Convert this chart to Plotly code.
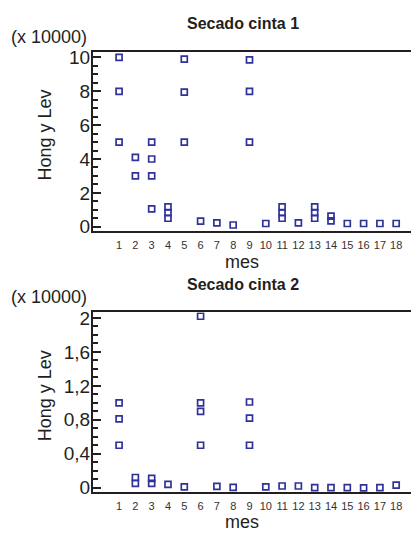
import plotly.graph_objects as go

# ---------------- data (values in units of x 10000) ----------------
meses = list(range(1, 19))

cinta1_mes = [1, 1, 1, 2, 2, 3, 3, 3, 3, 4, 4, 4, 5, 5, 5, 6, 7, 8, 9, 9, 9,
              10, 11, 11, 11, 12, 13, 13, 13, 14, 14, 15, 16, 17, 18]
cinta1_val = [10, 8, 5, 4.1, 3, 5, 4, 3, 1.05, 1.17, 0.83, 0.5, 9.9, 7.95, 5,
              0.33, 0.23, 0.1, 9.86, 8, 5, 0.19, 1.17, 0.83, 0.5, 0.23,
              1.17, 0.83, 0.5, 0.63, 0.35, 0.19, 0.19, 0.19, 0.19]

cinta2_mes = [1, 1, 1, 2, 2, 3, 3, 4, 5, 6, 6, 6, 6, 7, 8, 9, 9, 9,
              10, 11, 12, 13, 14, 15, 16, 17, 18]
cinta2_val = [1.0, 0.81, 0.5, 0.12, 0.05, 0.11, 0.05, 0.04, 0.01,
              2.02, 1.0, 0.9, 0.5, 0.015, 0.005, 1.01, 0.82, 0.5,
              0.01, 0.02, 0.02, 0.0, 0.0, 0.0, -0.003, 0.0, 0.03]

titulos = ["Secado cinta 1", "Secado cinta 2"]
y_titulo = "Hong y Lev"
x_titulo = "mes"
escala = "(x 10000)"

# ---------------- layout geometry (page pixels; page has an 8px body margin) ----------------
W, H = 419, 533
PAGE = 8
PLOT_LEFT, PLOT_RIGHT = 93, 420      # page pixels of the plot frame
L = PLOT_LEFT - PAGE
R = W - (PLOT_RIGHT - PAGE)
FONT = "Liberation Sans, Arial, sans-serif"
INK = "#231f20"
BLUE = "#2f3299"

def px_x(x):
    return (x - PLOT_LEFT) / (PLOT_RIGHT - PLOT_LEFT)

def px_y(y):
    return (H - (y - PAGE)) / H

X_RANGE = [-0.6, 19.46]

panels = [
    dict(top=47.7, bottom=230.7, rng=[-0.26, 10.33], dtick=2, minor=0.5,
         mes=cinta1_mes, val=cinta1_val, off=0),
    dict(top=313.5, bottom=497.3, rng=[-0.053, 2.068], dtick=0.4, minor=0.1,
         mes=cinta2_mes, val=cinta2_val, off=266),
]

fig = go.Figure()
layout = dict(
    width=W, height=H,
    margin=dict(l=L, r=R, t=0, b=0),
    paper_bgcolor="white", plot_bgcolor="white",
    showlegend=False, separators=",.",
    font=dict(family=FONT, color=INK),
)
annotations = []

for i, p in enumerate(panels):
    xa = "x" if i == 0 else "x2"
    ya = "y" if i == 0 else "y2"
    xkey = "xaxis" if i == 0 else "xaxis2"
    ykey = "yaxis" if i == 0 else "yaxis2"
    dom = [px_y(p["bottom"]), px_y(p["top"])]

    fig.add_trace(go.Scatter(
        x=p["mes"], y=p["val"], xaxis=xa, yaxis=ya, mode="markers",
        marker=dict(symbol="square-open", size=6, color=BLUE,
                    line=dict(width=1.7, color=BLUE)),
        hoverinfo="skip"))

    layout[xkey] = dict(
        domain=[0, 1], anchor=ya, range=X_RANGE,
        tickmode="array", tickvals=meses, ticktext=[str(m) for m in meses],
        ticks="", showgrid=False, zeroline=False,
        showline=True, mirror=True, linewidth=2, linecolor=INK,
        tickfont=dict(size=11, color="#333333"), ticklabelstandoff=3)
    layout[ykey] = dict(
        domain=dom, anchor=xa, range=p["rng"], dtick=p["dtick"], tick0=0,
        ticks="inside", ticklen=8, tickwidth=1.5, tickcolor=INK,
        minor=dict(dtick=p["minor"], tick0=0, ticks="inside", ticklen=5,
                   tickwidth=1.5, tickcolor=INK, showgrid=False),
        showgrid=False, zeroline=False, mirror="ticks",
        showline=True, linewidth=2, linecolor=INK,
        tickfont=dict(size=19, color=INK), ticklabelstandoff=-3)

    off = p["off"]
    annotations += [
        dict(text="<b>" + titulos[i] + "</b>", xref="paper", yref="paper",
             x=px_x(243), y=px_y(19 + off), xanchor="center", yanchor="middle",
             showarrow=False, font=dict(size=16, color=INK)),
        dict(text=escala, xref="paper", yref="paper",
             x=px_x(89), y=px_y(32 + off), xanchor="right", yanchor="middle",
             showarrow=False, font=dict(size=18, color=INK)),
        dict(text=y_titulo, xref="paper", yref="paper", textangle=-90,
             x=px_x(45), y=px_y((p["top"] + p["bottom"]) / 2 - 6),
             xanchor="center", yanchor="middle",
             showarrow=False, font=dict(size=18, color=INK)),
        dict(text=x_titulo, xref="paper", yref="paper",
             x=px_x(242), y=px_y(262 + off), xanchor="center", yanchor="middle",
             showarrow=False, font=dict(size=18, color=INK)),
    ]

layout["annotations"] = annotations
fig.update_layout(**layout)
fig.write_html("out.html")
